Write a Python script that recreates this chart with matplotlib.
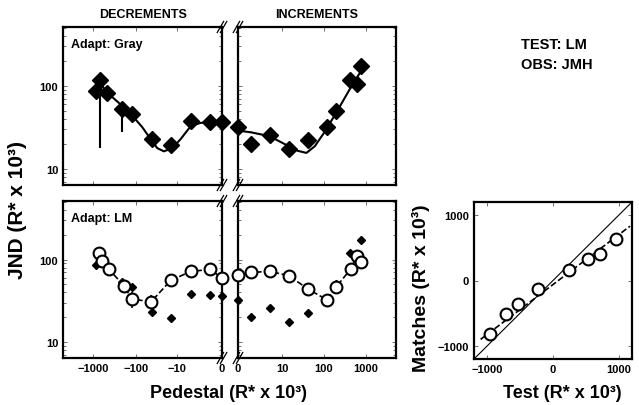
import numpy as np
import matplotlib
matplotlib.use('Agg')
import matplotlib.pyplot as plt

plt.rcParams['font.family'] = ['Liberation Sans', 'DejaVu Sans']
plt.rcParams['font.weight'] = 'bold'

# Adapt: Gray, filled diamonds (also redrawn small in the LM panels)
dec_x = [-850, -680, -470, -213, -122, -42, -14.5, -4.3, -0.9, 0]
dec_y = [87, 118, 82, 53, 46, 23, 19.5, 38, 37, 36.5]
dec_lo = [0, 100, 0, 25, 0, 0, 0, 0, 0, 0]
inc_x = [0, 1.0, 4.5, 14.4, 42.6, 120, 200, 410, 625, 750]
inc_y = [32, 20, 25.7, 17.4, 22.3, 31.8, 50, 119, 106, 173]

# fitted curves (solid)
fit_dec_x = [-650, -475, -212, -122, -71, -45, -31, -21.5, -13.3, -8.1, -4.3, -2.1, 0]
fit_dec_y = [105, 84, 58, 44, 32, 23, 17.8, 16.3, 17.8, 23, 33, 36, 36]
fit_inc_x = [0, 1.06, 4.5, 14.4, 24.4, 39, 62, 106, 200, 455, 750]
fit_inc_y = [29, 27.6, 24.8, 18.8, 16.5, 15.6, 18.8, 28, 48, 100, 150]

# Adapt: LM, open circles
lm_dec_x = [-740, -620, -430, -190, -122, -43, -14.6, -4.3, -0.9, 0]
lm_dec_y = [120, 96, 77, 48, 33, 31, 56, 72, 76, 60]
lm_dec_err = [8, 8, 6, 5, 7, 6, 4, 4, 4, 4]
lm_inc_x = [0, 1.05, 4.5, 14.4, 42.6, 120, 200, 435, 625, 750]
lm_inc_y = [65, 70, 72, 64, 44, 32.5, 47, 77, 112, 93]
lm_inc_err = [4, 4, 4, 5, 5, 4, 4, 9, 10, 10]

# matches panel
test_x = [-954, -715, -533, -234, 248, 533, 720, 963]
match_y = [-822, -517, -365, -126, 158, 330, 411, 639]
match_err = [70, 60, 60, 60, 60, 60, 60, 90]
line_x = [-1100, 1170]
line_y = [-900, 830]

W, H = 639, 406


def fwd(x):
    x = np.asarray(x, dtype=float)
    return np.sign(x) * np.log10(1 + np.abs(x))


def inv(y):
    y = np.asarray(y, dtype=float)
    return np.sign(y) * (10 ** np.abs(y) - 1)


def box(l, t, r, b):
    return [l / W, 1 - b / H, (r - l) / W, (b - t) / H]


fig = plt.figure(figsize=(W / 100, H / 100), dpi=100)
ax_tl = fig.add_axes(box(63, 28, 222, 186))
ax_tr = fig.add_axes(box(238, 28, 396, 186))
ax_bl = fig.add_axes(box(63, 202, 222, 359))
ax_br = fig.add_axes(box(238, 202, 396, 359))
ax_m = fig.add_axes(box(474, 203, 632, 360))

for ax in [ax_tl, ax_tr, ax_bl, ax_br]:
    ax.set_xscale('function', functions=(fwd, inv))
    ax.set_yscale('log')
    ax.set_ylim(6.4, 515)
    ax.tick_params(which='both', direction='in', top=True, right=True, width=0.6, color='0.35', labelsize=8)
    ax.tick_params(which='major', length=3)
    ax.tick_params(which='minor', length=2)
    ax.set_yticks([10, 100])
    for s in ax.spines.values():
        s.set_linewidth(1.6)

for ax in [ax_tl, ax_bl]:
    ax.set_xlim(-5000, 0)
    ax.set_xticks([-1000, -100, -10, 0])
for ax in [ax_tr, ax_br]:
    ax.set_xlim(0, 5000)
    ax.set_xticks([0, 10, 100, 1000])
    ax.tick_params(which='both', labelleft=False)

ax_tl.set_yticklabels(['10', '100'])
ax_bl.set_yticklabels(['10', '100'])
ax_tl.set_xticklabels([])
ax_tr.set_xticklabels([])
ax_bl.set_xticklabels(['\u22121000', '\u2212100', '\u221210', '0'])
ax_br.set_xticklabels(['0', '10', '100', '1000'])

# top: gray adaptation
ax_tl.plot(fit_dec_x, fit_dec_y, color='k', lw=1.5)
ax_tr.plot(fit_inc_x, fit_inc_y, color='k', lw=1.5)
ax_tl.errorbar(dec_x, dec_y, yerr=[dec_lo, [0] * len(dec_lo)], fmt='D', ms=8, color='k',
               ecolor='k', elinewidth=1.5, capsize=0, clip_on=False, zorder=3)
ax_tr.plot(inc_x, inc_y, 'D', ms=8, color='k', clip_on=False, zorder=3)

# bottom: LM adaptation
ax_bl.plot(dec_x, dec_y, 'D', ms=4.5, color='k', clip_on=False, zorder=2)
ax_br.plot(inc_x, inc_y, 'D', ms=4.5, color='k', clip_on=False, zorder=2)
ax_bl.errorbar(lm_dec_x, lm_dec_y, yerr=lm_dec_err, fmt='o--', ms=8.5, mfc='white', mec='k', mew=1.5,
               color='k', lw=1.2, elinewidth=1.2, capsize=0, clip_on=False, zorder=3)
ax_br.errorbar(lm_inc_x, lm_inc_y, yerr=lm_inc_err, fmt='o--', ms=8.5, mfc='white', mec='k', mew=1.5,
               color='k', lw=1.2, elinewidth=1.2, capsize=0, clip_on=False, zorder=3)

# axis break marks on the inner spines
dx, dy = 0.02, 0.035
for ax, xe in [(ax_tl, 1), (ax_bl, 1), (ax_tr, 0), (ax_br, 0)]:
    for ye in [0, 1]:
        for off in [-0.01, 0.01]:
            ax.plot([xe - dx + off, xe + dx + off], [ye - dy, ye + dy], color='k', lw=0.9,
                    transform=ax.transAxes, clip_on=False)

ax_tl.text(0.05, 0.93, 'Adapt: Gray', transform=ax_tl.transAxes, fontsize=9, va='top', ha='left')
ax_bl.text(0.05, 0.93, 'Adapt: LM', transform=ax_bl.transAxes, fontsize=9, va='top', ha='left')

# matches panel
ax_m.plot([-1200, 1200], [-1200, 1200], color='k', lw=0.8)
ax_m.plot(line_x, line_y, '--', color='k', lw=1.2)
ax_m.errorbar(test_x, match_y, yerr=match_err, fmt='o', ms=8.5, mfc='white', mec='k', mew=1.5,
              ecolor='k', elinewidth=1.2, capsize=0, zorder=3)
ax_m.set_xlim(-1200, 1200)
ax_m.set_ylim(-1200, 1200)
ax_m.set_xticks([-1000, 0, 1000])
ax_m.set_yticks([-1000, 0, 1000])
ax_m.set_xticklabels(['\u22121000', '0', '1000'])
ax_m.set_yticklabels(['\u22121000', '0', '1000'])
ax_m.tick_params(direction='in', top=True, right=True, width=0.6, length=3, color='0.35', labelsize=8)
for s in ax_m.spines.values():
    s.set_linewidth(1.6)

fig.text(143 / W, 1 - 15 / H, 'DECREMENTS', ha='center', va='center', fontsize=9)
fig.text(317 / W, 1 - 15 / H, 'INCREMENTS', ha='center', va='center', fontsize=9)
fig.text(521 / W, 1 - 45 / H, 'TEST: LM', ha='left', va='center', fontsize=10.5)
fig.text(521 / W, 1 - 65 / H, 'OBS: JMH', ha='left', va='center', fontsize=10.5)
fig.text(18 / W, 1 - 210 / H, 'JND (R* x 10\u00b3)', rotation=90, ha='center', va='center', fontsize=15)
fig.text(229 / W, 1 - 394 / H, 'Pedestal (R* x 10\u00b3)', ha='center', va='center', fontsize=13)
fig.text(421 / W, 1 - 288 / H, 'Matches (R* x 10\u00b3)', rotation=90, ha='center', va='center', fontsize=14)
fig.text(562 / W, 1 - 394 / H, 'Test (R* x 10\u00b3)', ha='center', va='center', fontsize=13)

fig.savefig('out.png', dpi=100)
